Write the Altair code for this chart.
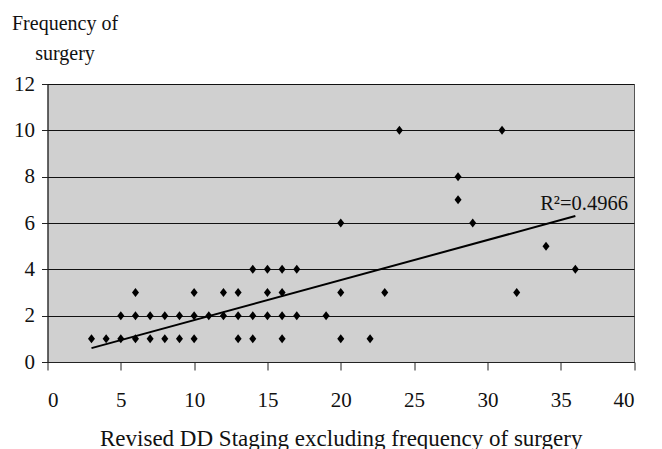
import altair as alt
import pandas as pd

# Scatter data (staging score vs frequency of surgery)
stage = [3, 4, 5, 6, 7, 8, 9, 10, 13, 14, 16, 20, 22,
         5, 6, 7, 8, 9, 10, 11, 12, 13, 14, 15, 16, 17, 19,
         6, 10, 12, 13, 15, 16, 20, 23, 32,
         14, 15, 16, 17, 36,
         34,
         20, 29,
         28,
         28,
         24, 31]
freq = [1, 1, 1, 1, 1, 1, 1, 1, 1, 1, 1, 1, 1,
        2, 2, 2, 2, 2, 2, 2, 2, 2, 2, 2, 2, 2, 2,
        3, 3, 3, 3, 3, 3, 3, 3, 3,
        4, 4, 4, 4, 4,
        5,
        6, 6,
        7,
        8,
        10, 10]

# Linear trend line as drawn in the reference
trend_stage = [3, 36]
trend_freq = [0.6, 6.3]

# R squared annotation
r2_text = ["R\u00b2=0.4966"]
r2_stage = [33.6]
r2_freq = [6.56]

x_ticks = [0, 5, 10, 15, 20, 25, 30, 35, 40]
y_ticks = [0, 2, 4, 6, 8, 10, 12]

pts = pd.DataFrame({"stage": stage, "freq": freq})
trend = pd.DataFrame({"stage": trend_stage, "freq": trend_freq})
lab = pd.DataFrame({"stage": r2_stage, "freq": r2_freq, "t": r2_text})

FONT = "Liberation Serif"

x_enc = alt.X(
    "stage:Q",
    scale=alt.Scale(domain=[0, 40], nice=False, zero=False),
    axis=alt.Axis(
        values=x_ticks, grid=False, tickSize=8, labelPadding=19,
        title="Revised DD Staging excluding frequency of surgery",
        titleFontSize=23, titleY=83, titleBaseline="alphabetic",
    ),
)
y_enc = alt.Y(
    "freq:Q",
    scale=alt.Scale(domain=[0, 12], nice=False, zero=False),
    axis=alt.Axis(
        values=y_ticks, grid=True, tickSize=6, labelPadding=7,
        title=["Frequency of", "surgery"], titleAngle=0, titleAlign="center",
        titleFontSize=20,
        titleX=17, titleY=-55, titleBaseline="alphabetic", titleLineHeight=30,
    ),
)

diamond = "M-0.78,0L0,-1L0.78,0L0,1Z"

points = alt.Chart(pts).mark_point(
    shape=diamond, filled=True, size=81, color="black", opacity=1
).encode(x=x_enc, y=y_enc)

line = alt.Chart(trend).mark_line(color="black", strokeWidth=2).encode(x=x_enc, y=y_enc)

text = alt.Chart(lab).mark_text(
    align="left", baseline="alphabetic", font=FONT, fontSize=20.5, color="#111"
).encode(x=x_enc, y=y_enc, text="t:N")

chart = alt.layer(points, line, text).properties(
    width=586.5, height=278,
    autosize=alt.AutoSizeParams(type="none"),
    padding={"left": 39.5, "top": 76, "right": 20, "bottom": 95},
).configure_view(
    fill="#d0d0d0", stroke="#555", strokeWidth=1
).configure_axis(
    labelFont=FONT, titleFont=FONT, labelFontSize=21,
    labelColor="#111", titleColor="#111", titleFontWeight="normal",
    domainColor="#222", tickColor="#222", gridColor="#111", gridOpacity=1,
    domainWidth=1, tickWidth=1, gridWidth=1,
)

chart.save("out.html", embed_options={"renderer": "svg", "actions": False})
